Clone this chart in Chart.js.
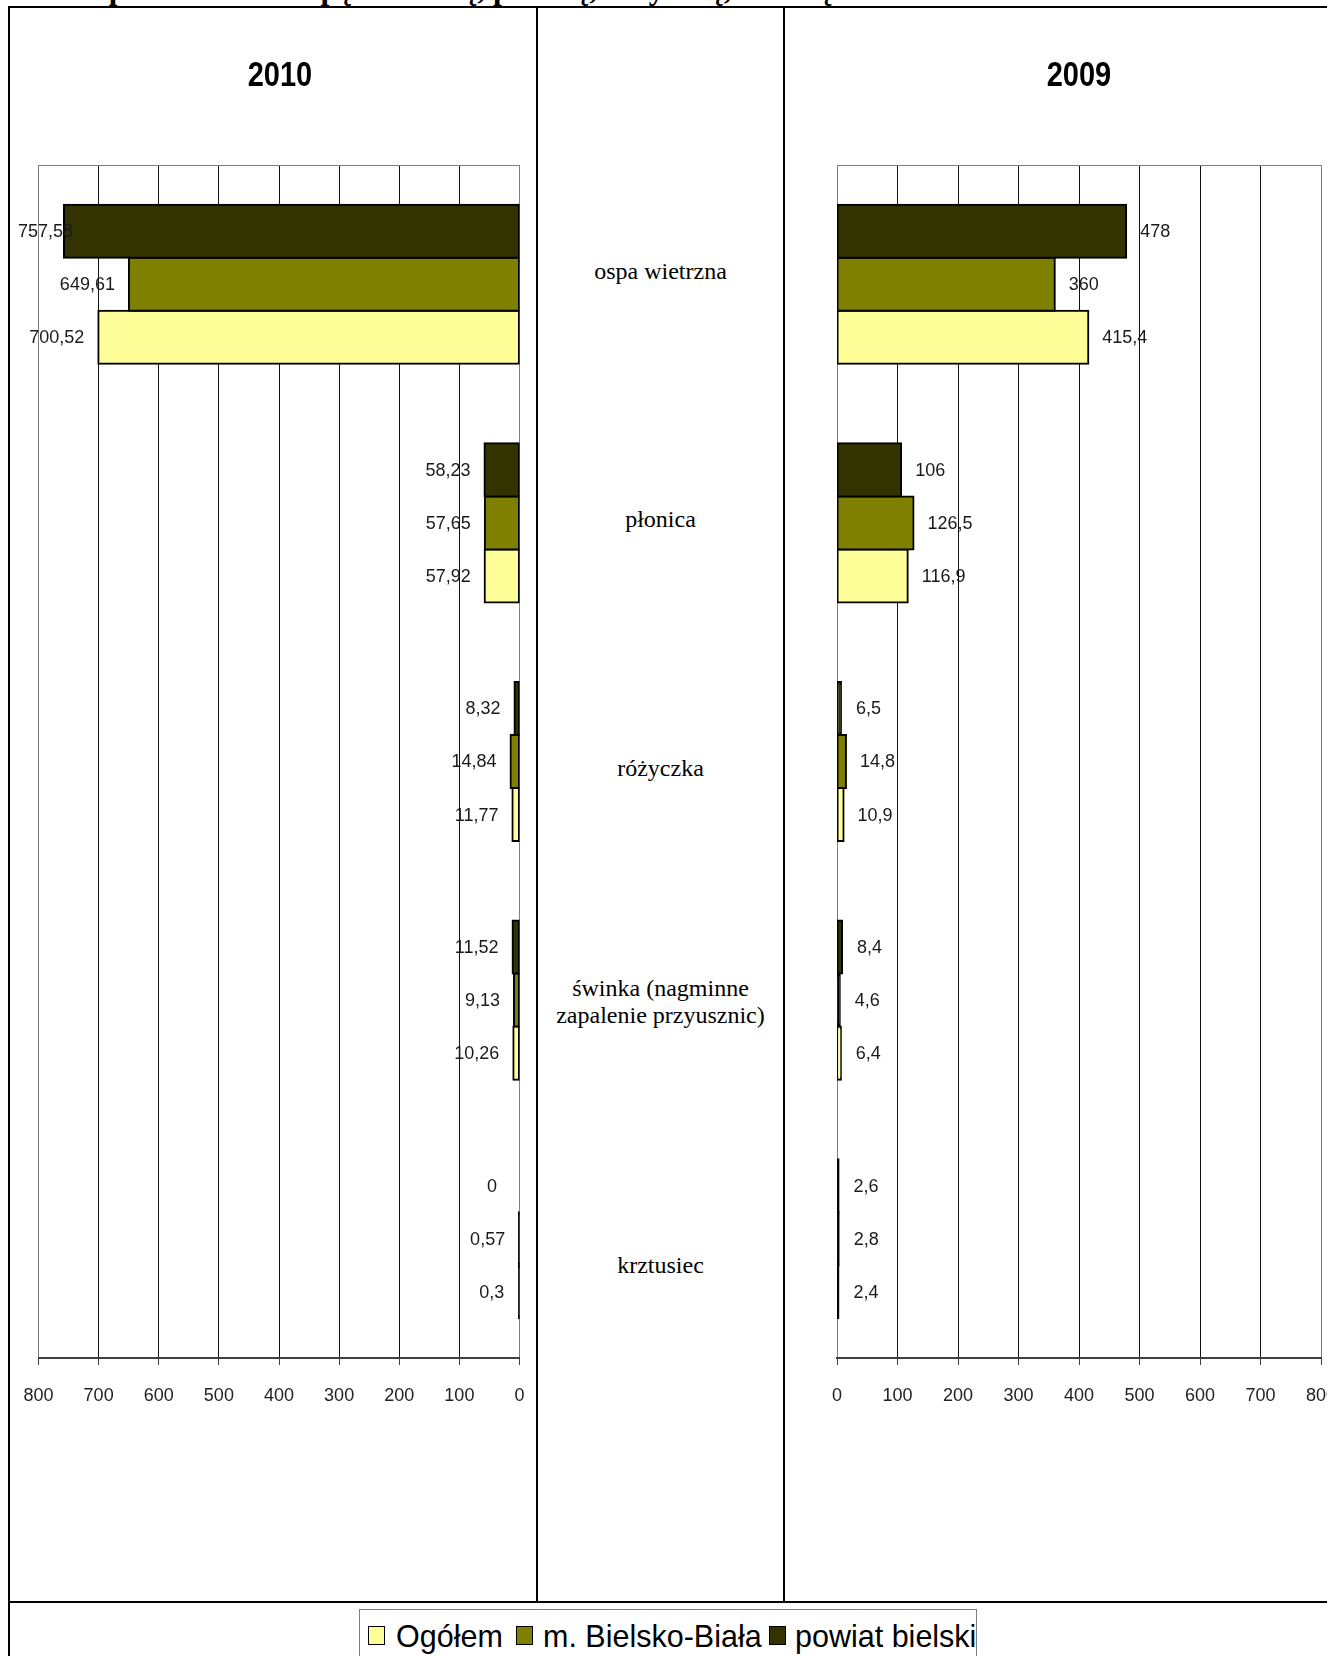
<!DOCTYPE html>
<html lang="pl">
<head>
<meta charset="utf-8">
<title>Zapadalność na choroby zakaźne 2009–2010</title>
<script src="https://cdn.jsdelivr.net/npm/chart.js@4.4.0/dist/chart.umd.min.js"></script>
<style>
  html, body { margin: 0; padding: 0; background: #fff; }
  body { width: 1327px; height: 1656px; position: relative; overflow: hidden;
         font-family: "Liberation Sans", Arial, sans-serif; }
  .rule { position: absolute; background: #000; }
  .chartbox { position: absolute; }
  .year { position: absolute; top: 56px; width: 200px; text-align: center;
          font: bold 29px "Liberation Sans", Arial, sans-serif; line-height: 36px;
          transform: scaleY(1.2); color: #000; }
  .cat { position: absolute; left: 547px; width: 227px; text-align: center;
         font: 24px "Liberation Serif", "Times New Roman", serif; line-height: 27px;
         transform: translateY(-50%); color: #000; }
  #titlewrap { position: absolute; left: 0; top: 0; width: 1327px; height: 7px; overflow: hidden; }
  #title { position: absolute; left: 72px; top: -27px; white-space: nowrap;
           font: bold 31.5px "Liberation Serif", "Times New Roman", serif; line-height: 31.5px; }
  .legend { position: absolute; left: 359px; top: 1609px; width: 618px; height: 80px;
            border: 1px solid #808080; box-sizing: border-box; }
  .sw { position: absolute; top: 16px; width: 15px; height: 17px; border: 1.5px solid #000; }
  .lt { position: absolute; top: 10px; font: 30.5px "Liberation Sans", Arial, sans-serif;
        line-height: 32px; white-space: nowrap; color: #000; }
</style>
</head>
<body>
<div id="titlewrap"><div id="title">Zapadalność na ospę wietrzną, płonicę, różyczkę, świnkę i krztusiec w latach 2009 – 2010</div></div>

<div class="chartbox" style="left:10px;top:10px;"><canvas id="c2010" width="526" height="1590"></canvas></div>
<div class="chartbox" style="left:785px;top:10px;"><canvas id="c2009" width="580" height="1590"></canvas></div>

<div class="year" style="left:180px;">2010</div>
<div class="year" style="left:979px;">2009</div>

<div id="cats"></div>

<!-- table rules -->
<div class="rule" style="left:8px;top:6px;width:1330px;height:2px;"></div>
<div class="rule" style="left:8px;top:6px;width:2px;height:1660px;"></div>
<div class="rule" style="left:536px;top:6px;width:2px;height:1597px;"></div>
<div class="rule" style="left:783px;top:6px;width:2px;height:1597px;"></div>
<div class="rule" style="left:8px;top:1601px;width:1330px;height:2px;"></div>

<div class="legend" id="legend"></div>

<script>
// categories and series (zapadalność na 100 tys.)
const categories = ['ospa wietrzna', 'płonica', 'różyczka', 'świnka (nagminne zapalenie przyusznic)', 'krztusiec'];
const seriesNames = ['powiat bielski', 'm. Bielsko-Biała', 'Ogółem'];
const seriesColors = ['#333300', '#808000', '#FFFF99'];

const powiat2010 = [757.58, 58.23, 8.32, 11.52, 0];
const miasto2010 = [649.61, 57.65, 14.84, 9.13, 0.57];
const ogolem2010 = [700.52, 57.92, 11.77, 10.26, 0.3];

const powiat2009 = [478, 106, 6.5, 8.4, 2.6];
const miasto2009 = [360, 126.5, 14.8, 4.6, 2.8];
const ogolem2009 = [415.4, 116.9, 10.9, 6.4, 2.4];

const axisMin = 0;
const axisMax = 800;
const axisStep = 100;

const legendOrder = [2, 1, 0];

const fmt = v => String(v).replace('.', ',');
const labelFont = '18px "Liberation Sans", Arial, sans-serif';

// pixel length of a bar along the value axis
function barLength(ctx) {
  const x = ctx.chart.scales.x;
  if (!x || ctx.raw == null) return 99;
  return Math.abs(x.getPixelForValue(ctx.raw) - x.getPixelForValue(0));
}

// value labels placed just beyond the end of each bar
const valueLabels = {
  id: 'valueLabels',
  afterDatasetsDraw(chart, args, opts) {
    const ctx = chart.ctx;
    ctx.save();
    ctx.font = labelFont;
    ctx.fillStyle = '#1a1a1a';
    ctx.textAlign = 'center';
    ctx.textBaseline = 'middle';
    chart.data.datasets.forEach((ds, i) => {
      const meta = chart.getDatasetMeta(i);
      meta.data.forEach((bar, j) => {
        const text = fmt(ds.data[j]);
        const w = ctx.measureText(text).width;
        const box = Math.max(w, 27);
        let cx;
        if (opts.side === 'left') {
          cx = bar.x - 14 - box / 2;
          if (cx - w / 2 < 8) cx = 8 + w / 2;
        } else {
          cx = bar.x + 14 + box / 2;
        }
        ctx.fillText(text, cx, bar.y + 1);
      });
    });
    ctx.restore();
  }
};

// thin frame line along the top of the plot area
const topFrame = {
  id: 'topFrame',
  beforeDatasetsDraw(chart) {
    const { ctx, chartArea } = chart;
    ctx.save();
    ctx.strokeStyle = '#808080';
    ctx.lineWidth = 1;
    ctx.beginPath();
    ctx.moveTo(chartArea.left, Math.round(chartArea.top) + 0.5);
    ctx.lineTo(chartArea.right, Math.round(chartArea.top) + 0.5);
    ctx.stroke();
    ctx.restore();
  }
};

function makeChart(id, series, reverse, padding) {
  return new Chart(document.getElementById(id), {
    type: 'bar',
    data: {
      labels: categories,
      datasets: series.map((d, i) => ({
        label: seriesNames[i],
        data: d,
        // very thin bars are all outline, so they read as a black stroke
        backgroundColor: c => barLength(c) < 3.5 ? '#000' : seriesColors[i],
        borderColor: '#000',
        borderWidth: c => (c.raw === 0 ? 0 : 2),
        inflateAmount: c => (c.raw === 0 ? 0 : 1),
        borderSkipped: false,
        categoryPercentage: 0.667,
        barPercentage: 1.0
      }))
    },
    options: {
      indexAxis: 'y',
      responsive: false,
      animation: false,
      devicePixelRatio: 1,
      layout: { padding },
      plugins: {
        legend: { display: false },
        tooltip: { enabled: false },
        valueLabels: { side: reverse ? 'left' : 'right' }
      },
      scales: {
        x: {
          type: 'linear',
          min: axisMin,
          max: axisMax,
          reverse,
          position: 'bottom',
          afterFit(scale) {
            scale.height = 60;
            scale.paddingLeft = 0;
            scale.paddingRight = 0;
          },
          ticks: {
            stepSize: axisStep,
            padding: 20,
            color: '#222',
            font: { family: '"Liberation Sans", Arial, sans-serif', size: 18 },
            maxRotation: 0,
            autoSkip: false
          },
          grid: {
            color: c => (c.tick && (c.tick.value === axisMin || c.tick.value === axisMax)) ? '#808080' : '#111',
            lineWidth: 1,
            tickLength: 7,
            tickColor: '#404040',
            drawTicks: true
          },
          border: { display: true, color: '#404040', width: 2 }
        },
        y: {
          type: 'category',
          display: false,
          grid: { display: false }
        }
      }
    },
    plugins: [valueLabels, topFrame]
  });
}

makeChart('c2010', [powiat2010, miasto2010, ogolem2010], true,
  { left: 28.5, right: 16.5, top: 155, bottom: 182 });
makeChart('c2009', [powiat2009, miasto2009, ogolem2009], false,
  { left: 52, right: 44, top: 155, bottom: 182 });

// disease names in the middle column
const catCenters = [271, 519, 768, 1002, 1265];
const catsEl = document.getElementById('cats');
categories.forEach((name, i) => {
  const d = document.createElement('div');
  d.className = 'cat';
  d.style.top = catCenters[i] + 'px';
  d.textContent = name;
  catsEl.appendChild(d);
});

// legend
const legendEl = document.getElementById('legend');
const swatchLeft = [8, 156, 409];
const textLeft = [36, 183, 435];
legendOrder.forEach((si, k) => {
  const s = document.createElement('div');
  s.className = 'sw';
  s.style.left = swatchLeft[k] + 'px';
  s.style.background = seriesColors[si];
  legendEl.appendChild(s);
  const t = document.createElement('div');
  t.className = 'lt';
  t.style.left = textLeft[k] + 'px';
  t.textContent = seriesNames[si];
  legendEl.appendChild(t);
});
</script>
</body>
</html>
